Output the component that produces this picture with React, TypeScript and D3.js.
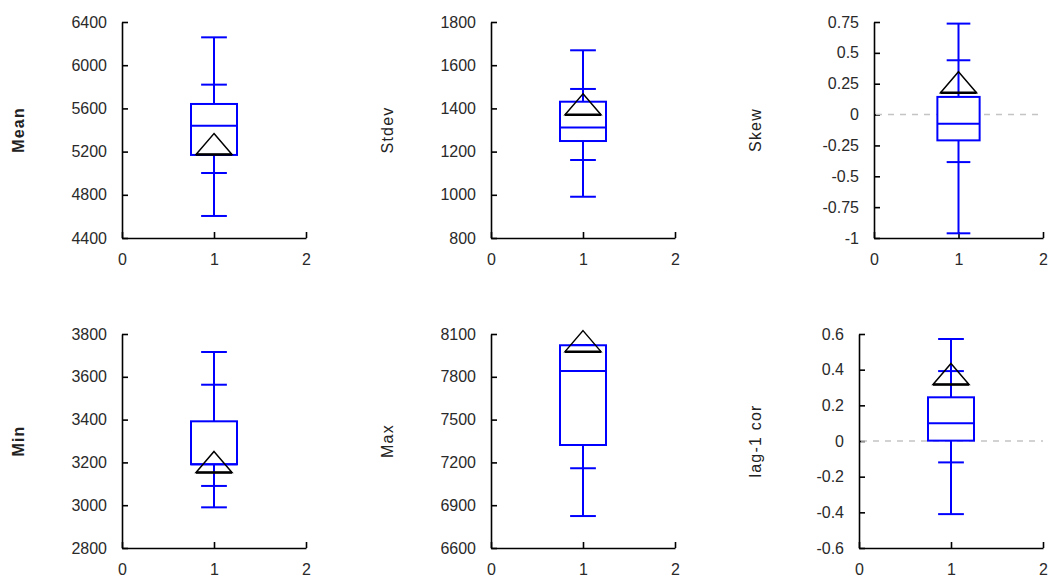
import React, { useEffect, useRef } from "react";
import * as d3 from "d3";

// one entry per panel
const panelNames = ["Mean", "Stdev", "Skew", "Min", "Max", "lag-1 cor"];
const boldLabel = [true, false, false, true, false, false];

const lowerOuter = [4604, 991, -0.962, 2990, 6824, -0.41];
const lowerInner = [5002, 1161, -0.385, 3090, 7159, -0.12];
const q1 = [5169, 1249, -0.209, 3191, 7322, 0.002];
const median = [5440, 1311, -0.074, 3191, 7841, 0.099];
const q3 = [5641, 1431, 0.143, 3392, 8021, 0.245];
const upperInner = [5820, 1490, 0.44, 3563, 8021, 0.392];
const upperOuter = [6258, 1669, 0.737, 3716, 8021, 0.572];
const observed = [5270, 1419, 0.262, 3202, 8050, 0.376];

const yTicks = [
  [4400, 4800, 5200, 5600, 6000, 6400],
  [800, 1000, 1200, 1400, 1600, 1800],
  [-1, -0.75, -0.5, -0.25, 0, 0.25, 0.5, 0.75],
  [2800, 3000, 3200, 3400, 3600, 3800],
  [6600, 6900, 7200, 7500, 7800, 8100],
  [-0.6, -0.4, -0.2, 0, 0.2, 0.4, 0.6],
];
const xTicks = [0, 1, 2];
const zeroLine = [false, false, true, false, false, true];

// plot rectangles [left, top, right, bottom]
const frames = [
  [122, 22, 306, 238],
  [491, 22, 675, 238],
  [874, 22, 1043, 238],
  [122, 334, 306, 548],
  [491, 334, 675, 548],
  [859, 334, 1043, 548],
];
const labelX = [18, 387, 755, 18, 387, 755];

function App() {
  const svgRef = useRef(null);

  useEffect(() => {
    const svg = d3.select(svgRef.current);
    svg.selectAll("*").remove();
    const font = "'Liberation Sans', Arial, sans-serif";
    const blue = "#0000ff";

    panelNames.forEach((name, i) => {
      const [l, t, r, b] = frames[i];
      const ticks = yTicks[i];
      const x = d3.scaleLinear().domain([0, 2]).range([l, r]);
      const y = d3
        .scaleLinear()
        .domain([ticks[0], ticks[ticks.length - 1]])
        .range([b, t]);
      const g = svg.append("g");

      // y axis
      const ya = g
        .append("g")
        .attr("transform", `translate(${l},0)`)
        .call(
          d3
            .axisLeft(y)
            .tickValues(ticks)
            .tickSize(-6)
            .tickSizeOuter(0)
            .tickPadding(15)
            .tickFormat((d) => String(d))
        );
      // x axis
      const xa = g
        .append("g")
        .attr("transform", `translate(0,${b})`)
        .call(
          d3
            .axisBottom(x)
            .tickValues(xTicks)
            .tickSize(-6)
            .tickSizeOuter(0)
            .tickPadding(16)
            .tickFormat((d) => String(d))
        );
      [ya, xa].forEach((a) => {
        a.selectAll("path,line").attr("stroke", "#000").attr("stroke-width", 1.6);
        a.selectAll("text")
          .attr("fill", "#2a2a2a")
          .style("font-family", font)
          .style("font-size", "16px");
      });

      if (zeroLine[i]) {
        g.append("line")
          .attr("x1", x(0) + 2)
          .attr("x2", x(2))
          .attr("y1", y(0))
          .attr("y2", y(0))
          .attr("stroke", "#c4c4c4")
          .attr("stroke-width", 1.5)
          .attr("stroke-dasharray", "6,6");
      }

      const cx = x(1);
      const boxW = x(0.25) - x(0);
      const capW = x(0.14) - x(0);

      // whisker
      g.append("line")
        .attr("x1", cx)
        .attr("x2", cx)
        .attr("y1", y(lowerOuter[i]))
        .attr("y2", y(upperOuter[i]))
        .attr("stroke", blue)
        .attr("stroke-width", 2);
      [lowerOuter[i], lowerInner[i], upperInner[i], upperOuter[i]].forEach((v) => {
        g.append("line")
          .attr("x1", cx - capW)
          .attr("x2", cx + capW)
          .attr("y1", y(v))
          .attr("y2", y(v))
          .attr("stroke", blue)
          .attr("stroke-width", 2);
      });
      g.append("rect")
        .attr("x", cx - boxW)
        .attr("y", y(q3[i]))
        .attr("width", boxW * 2)
        .attr("height", y(q1[i]) - y(q3[i]))
        .attr("fill", "#fff")
        .attr("stroke", blue)
        .attr("stroke-width", 2);
      g.append("line")
        .attr("x1", cx - boxW)
        .attr("x2", cx + boxW)
        .attr("y1", y(median[i]))
        .attr("y2", y(median[i]))
        .attr("stroke", blue)
        .attr("stroke-width", 2);

      // observed value marker
      const oy = y(observed[i]);
      const tri = d3.path();
      tri.moveTo(cx, oy - 10.5);
      tri.lineTo(cx + 18, oy + 10.5);
      tri.lineTo(cx - 18, oy + 10.5);
      tri.closePath();
      g.append("path")
        .attr("d", tri.toString())
        .attr("fill", "none")
        .attr("stroke", "#000")
        .attr("stroke-width", 1.5);
      g.append("line")
        .attr("x1", cx - 18)
        .attr("x2", cx + 18)
        .attr("y1", oy + 10.5)
        .attr("y2", oy + 10.5)
        .attr("stroke", "#000")
        .attr("stroke-width", 2.5);

      g.append("text")
        .attr("transform", `translate(${labelX[i]},${(t + b) / 2}) rotate(-90)`)
        .attr("text-anchor", "middle")
        .attr("dy", "0.35em")
        .attr("fill", "#222")
        .style("font-family", font)
        .style("font-size", "16px")
        .style("font-weight", boldLabel[i] ? "bold" : "normal")
        .style("letter-spacing", "1.2px")
        .text(name);
    });
  }, []);

  return (
    <svg
      ref={svgRef}
      width={1054}
      height={580}
      style={{ position: "absolute", left: 0, top: 0, background: "#fff" }}
    ></svg>
  );
}

export default App;
